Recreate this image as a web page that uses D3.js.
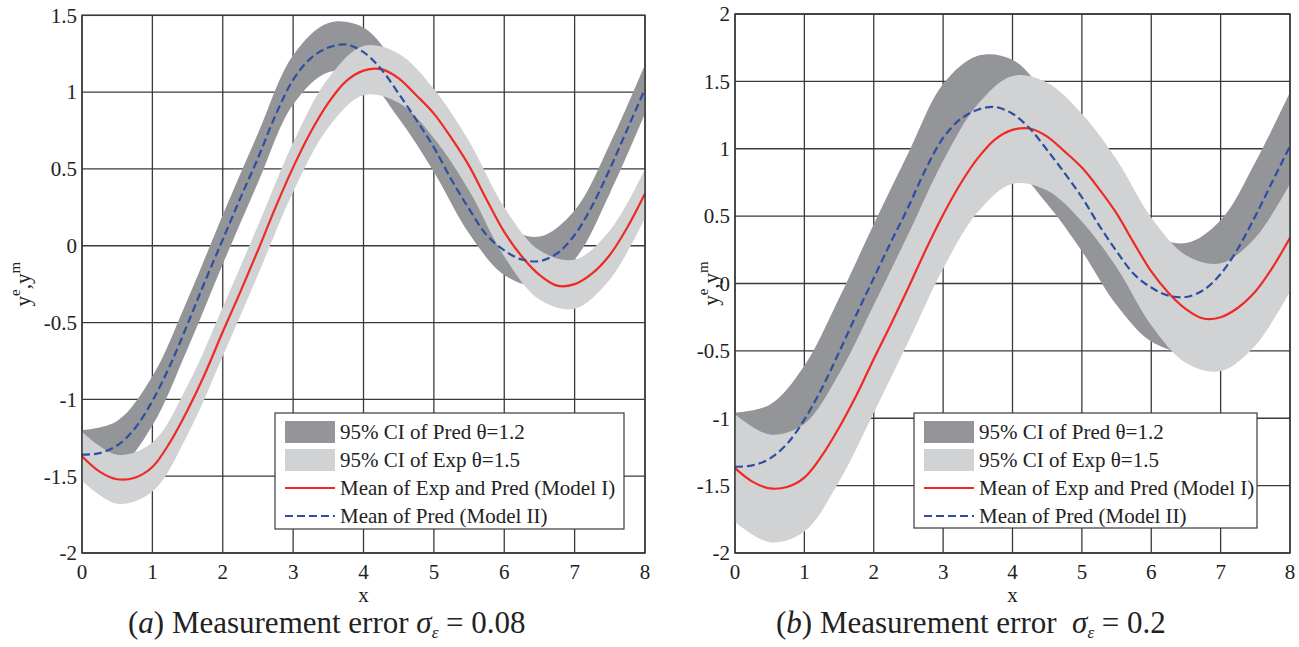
<!DOCTYPE html>
<html>
<head>
<meta charset="utf-8">
<script src="https://cdn.jsdelivr.net/npm/d3@7"></script>
<style>
  body { margin: 0; background: #fff; }
  svg { display: block; font-family: "Liberation Serif", "Times New Roman", serif; }
  text { white-space: pre; }
</style>
</head>
<body>
<svg id="chart" width="1299" height="647"></svg>
<script>
// x grid of the mean curves (step 0.25) and of the band edges (step 0.5)
const xMean = d3.range(0, 8.001, 0.25);
const xBand = d3.range(0, 8.001, 0.5);

// mean of Exp and Pred (Model I) - same in both panels
const meanExp = [-1.37, -1.47, -1.52, -1.51, -1.44, -1.28, -1.07, -0.83, -0.56, -0.30, -0.03, 0.25, 0.51, 0.74, 0.93, 1.07, 1.14,
                 1.15, 1.09, 0.98, 0.86, 0.70, 0.52, 0.30, 0.09, -0.07, -0.19, -0.26, -0.25, -0.18, -0.06, 0.12, 0.34];
// mean of Pred (Model II)
const meanPred = [-1.36, -1.35, -1.30, -1.19, -1.01, -0.78, -0.51, -0.23, 0.04, 0.31, 0.57, 0.85, 1.08, 1.22, 1.29, 1.31, 1.26,
                  1.15, 0.99, 0.82, 0.64, 0.43, 0.24, 0.07, -0.03, -0.09, -0.10, -0.05, 0.07, 0.26, 0.50, 0.76, 1.02];

// panel (a): sigma = 0.08
const predHiA = [-1.20, -1.14, -0.85, -0.35, 0.20, 0.73, 1.24, 1.45, 1.42, 1.15, 0.80, 0.40, 0.13, 0.06, 0.23, 0.66, 1.18];
const predLoA = [-1.52, -1.46, -1.17, -0.67, -0.12, 0.41, 0.92, 1.13, 1.10, 0.83, 0.48, 0.08, -0.19, -0.26, -0.09, 0.34, 0.86];
const expHiA  = [-1.21, -1.36, -1.28, -0.91, -0.40, 0.13, 0.67, 1.09, 1.30, 1.25, 1.02, 0.68, 0.25, -0.03, -0.09, 0.10, 0.50];
const expLoA  = [-1.53, -1.68, -1.60, -1.23, -0.72, -0.19, 0.35, 0.77, 0.98, 0.93, 0.70, 0.36, -0.07, -0.35, -0.41, -0.22, 0.18];

// panel (b): sigma = 0.2
const predHiB = [-0.96, -0.90, -0.61, -0.11, 0.44, 0.97, 1.48, 1.69, 1.66, 1.39, 1.04, 0.64, 0.37, 0.30, 0.47, 0.90, 1.42];
const predLoB = [-1.76, -1.70, -1.41, -0.91, -0.36, 0.17, 0.68, 0.89, 0.86, 0.59, 0.24, -0.16, -0.43, -0.50, -0.33, 0.10, 0.62];
const expHiB  = [-0.97, -1.12, -1.04, -0.67, -0.16, 0.37, 0.91, 1.33, 1.54, 1.49, 1.26, 0.92, 0.49, 0.21, 0.15, 0.34, 0.74];
const expLoB  = [-1.77, -1.92, -1.84, -1.47, -0.96, -0.43, 0.11, 0.53, 0.74, 0.69, 0.46, 0.12, -0.31, -0.59, -0.65, -0.46, -0.06];

const xTicks = [0, 1, 2, 3, 4, 5, 6, 7, 8];
const yTicksA = [-2, -1.5, -1, -0.5, 0, 0.5, 1, 1.5];
const yTicksB = [-2, -1.5, -1, -0.5, 0, 0.5, 1, 1.5, 2];

const legendLabels = ["95% CI of Pred θ=1.2", "95% CI of Exp θ=1.5", "Mean of Exp and Pred (Model I)", "Mean of Pred (Model II)"];

const DARK = "#939598", LIGHT = "#d1d2d4", RED = "#ee2a24", BLUE = "#2d4ea2", GRID = "#3a3a3a";

const svg = d3.select("#chart");

const panels = [
  {left: 82, right: 645, top: 15.3, bottom: 553, yDom: [-2, 1.5], yTicks: yTicksA,
   predHi: predHiA, predLo: predLoA, expHi: expHiA, expLo: expLoA,
   legend: {x: 275, y: 413, w: 349, h: 116}, ylabX: 30, capX: 128, letter: "a", sig: "0.08", gap: " "},
  {left: 735, right: 1290, top: 14, bottom: 553, yDom: [-2, 2], yTicks: yTicksB,
   predHi: predHiB, predLo: predLoB, expHi: expHiB, expLo: expLoB,
   legend: {x: 914, y: 413, w: 343, h: 115}, ylabX: 718, capX: 776, letter: "b", sig: "0.2", gap: "  "}
];

panels.forEach(p => {
  const x = d3.scaleLinear().domain([0, 8]).range([p.left, p.right]);
  const y = d3.scaleLinear().domain(p.yDom).range([p.bottom, p.top]);
  const g = svg.append("g");

  // grid
  g.append("g").selectAll("line").data(xTicks).join("line")
    .attr("x1", d => x(d)).attr("x2", d => x(d)).attr("y1", p.top).attr("y2", p.bottom)
    .attr("stroke", GRID).attr("stroke-width", 1.3);
  g.append("g").selectAll("line").data(p.yTicks).join("line")
    .attr("x1", p.left).attr("x2", p.right).attr("y1", d => y(d)).attr("y2", d => y(d))
    .attr("stroke", GRID).attr("stroke-width", 1.3);

  // confidence bands
  const band = (hi, lo) => d3.area().curve(d3.curveCatmullRom)
    .x((d, i) => x(xBand[i])).y0((d, i) => y(lo[i])).y1((d, i) => y(hi[i]))(hi);
  g.append("path").attr("d", band(p.predHi, p.predLo)).attr("fill", DARK);
  g.append("path").attr("d", band(p.expHi, p.expLo)).attr("fill", LIGHT);

  // mean lines
  const line = d3.line().curve(d3.curveCatmullRom).x((d, i) => x(xMean[i])).y(d => y(d));
  g.append("path").attr("d", line(meanExp)).attr("fill", "none").attr("stroke", RED).attr("stroke-width", 2.2);
  g.append("path").attr("d", line(meanPred)).attr("fill", "none").attr("stroke", BLUE)
    .attr("stroke-width", 2.2).attr("stroke-dasharray", "8,4");

  // frame
  g.append("rect").attr("x", p.left).attr("y", p.top).attr("width", p.right - p.left).attr("height", p.bottom - p.top)
    .attr("fill", "none").attr("stroke", GRID).attr("stroke-width", 1.5);

  // tick labels
  g.append("g").selectAll("text").data(xTicks).join("text")
    .attr("x", d => x(d)).attr("y", p.bottom + 26).attr("text-anchor", "middle")
    .attr("font-size", 21).attr("fill", "#222").text(d => d);
  g.append("g").selectAll("text").data(p.yTicks).join("text")
    .attr("x", p.left - 5).attr("y", d => y(d)).attr("dy", "0.35em").attr("text-anchor", "end")
    .attr("font-size", 21).attr("fill", "#222").text(d => d);

  // axis labels
  g.append("text").attr("x", (p.left + p.right) / 2).attr("y", p.bottom + 49)
    .attr("text-anchor", "middle").attr("font-size", 21).attr("fill", "#222").text("x");
  const yl = g.append("text").attr("transform", `translate(${p.ylabX},${(p.top + p.bottom) / 2}) rotate(-90)`)
    .attr("text-anchor", "middle").attr("font-size", 21).attr("fill", "#222");
  yl.append("tspan").text("y");
  yl.append("tspan").attr("font-size", 15).attr("dy", -10).text("e");
  yl.append("tspan").attr("dy", 10).text(",y");
  yl.append("tspan").attr("font-size", 15).attr("dy", -10).text("m");

  // legend
  const L = p.legend;
  const lg = g.append("g").attr("transform", `translate(${L.x},${L.y})`);
  lg.append("rect").attr("width", L.w).attr("height", L.h).attr("fill", "#fff").attr("stroke", GRID).attr("stroke-width", 1.2);
  const rows = [19, 47, 75, 103];
  lg.append("rect").attr("x", 10).attr("y", rows[0] - 11).attr("width", 50).attr("height", 22).attr("fill", DARK);
  lg.append("rect").attr("x", 10).attr("y", rows[1] - 11).attr("width", 50).attr("height", 22).attr("fill", LIGHT);
  lg.append("line").attr("x1", 10).attr("x2", 60).attr("y1", rows[2]).attr("y2", rows[2]).attr("stroke", RED).attr("stroke-width", 2.2);
  lg.append("line").attr("x1", 10).attr("x2", 60).attr("y1", rows[3]).attr("y2", rows[3]).attr("stroke", BLUE)
    .attr("stroke-width", 2.2).attr("stroke-dasharray", "8,4");
  lg.selectAll("text.lab").data(legendLabels).join("text").attr("class", "lab")
    .attr("x", 65).attr("y", (d, i) => rows[i]).attr("dy", "0.35em")
    .attr("font-size", 21).attr("fill", "#222").text(d => d);

  // caption
  const cap = svg.append("text").attr("x", p.capX).attr("y", 633).attr("font-size", 31).attr("fill", "#222");
  cap.append("tspan").text("(");
  cap.append("tspan").attr("font-style", "italic").text(p.letter);
  cap.append("tspan").text(") Measurement error" + p.gap);
  cap.append("tspan").attr("font-style", "italic").text("σ");
  cap.append("tspan").attr("font-style", "italic").attr("font-size", 17).attr("dy", 5).text("ε");
  cap.append("tspan").attr("dy", -5).text(" = " + p.sig);
});
</script>
</body>
</html>
